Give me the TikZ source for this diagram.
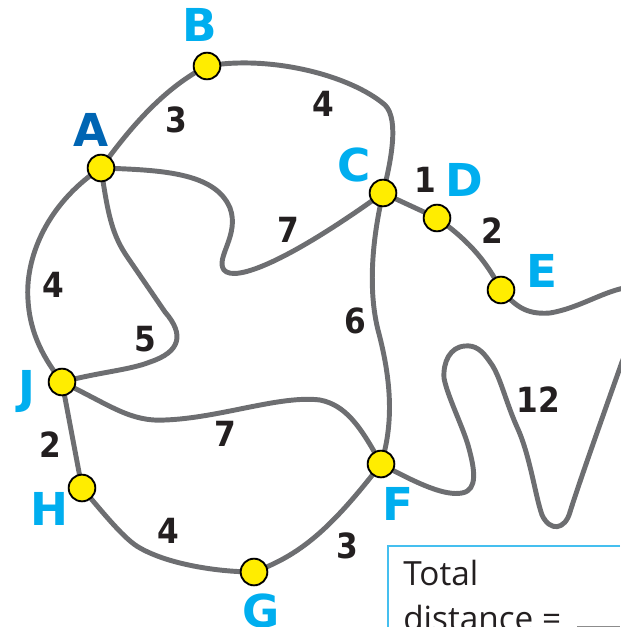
\documentclass[tikz,border=0pt]{standalone}
\usepackage{fontspec}
\setmainfont{Open Sans}
\newfontfamily\lblfont{DejaVu Sans}
\newfontfamily\numfont{DejaVu Sans Condensed}
\usetikzlibrary{backgrounds}
\definecolor{cRoad}{HTML}{6D6E71}
\definecolor{cDot}{HTML}{FFED00}
\definecolor{cCyan}{HTML}{00AEEF}
\definecolor{cBlue}{HTML}{0065B3}
\definecolor{cNum}{HTML}{231F20}
\definecolor{cBox}{HTML}{45BFEF}
\begin{document}
\begin{tikzpicture}[x=0.75pt,y=-0.75pt,
  dot/.style={circle, draw=black, fill=cDot, line width=1.4pt, minimum size=20pt, inner sep=0pt},
  roadline/.style={draw=cRoad, line width=3.7pt, line cap=round, line join=round},
  vlabel/.style={anchor=base, font=\fontsize{34}{34}\lblfont\bfseries, text=cCyan, inner sep=0pt},
  wlabel/.style={anchor=base, font=\fontsize{26}{26}\numfont\bfseries, text=cNum, inner sep=0pt},
  boxtext/.style={anchor=base west, font=\fontsize{25}{25}\selectfont, text=cNum, inner sep=0pt}]
\useasboundingbox (0,0) rectangle (620,627);
% vertices
\node[dot] (A) at (101,168) {};
\node[dot] (B) at (207,66) {};
\node[dot] (C) at (383,193) {};
\node[dot] (D) at (437,218) {};
\node[dot] (E) at (501,290) {};
\node[dot] (F) at (381,464) {};
\node[dot] (G) at (254,572) {};
\node[dot] (H) at (82,488) {};
\node[dot] (J) at (62,382) {};
% vertex labels
\node[vlabel, text=cBlue] (lA) at (91,147) {A};
\node[vlabel] (lB) at (200,42) {B};
\node[vlabel] (lC) at (354,182) {C};
\node[vlabel] (lD) at (464,197) {D};
\node[vlabel] (lE) at (542,287) {E};
\node[vlabel] (lF) at (398,520) {F};
\node[vlabel] (lG) at (261,627) {G};
\node[vlabel] (lH) at (49,525) {H};
\node[vlabel] (lJ) at (27,403) {J};
% weights
\node[wlabel] (wAB) at (176,133) {3};
\node[wlabel] (wBC) at (323,117) {4};
\node[wlabel] (wAC) at (288,242) {7};
\node[wlabel] (wAJ) at (53,297) {4};
\node[wlabel] (wAJb) at (145,351) {5};
\node[wlabel] (wCD) at (425,193) {1};
\node[wlabel] (wDE) at (492,243) {2};
\node[wlabel] (wCF) at (355,333) {6};
\node[wlabel] (wEF) at (538,412) {12};
\node[wlabel] (wJH) at (50,457) {2};
\node[wlabel] (wJF) at (225,446) {7};
\node[wlabel] (wHG) at (168,543) {4};
\node[wlabel] (wGF) at (347,558) {3};
% answer box
\coordinate (boxTR) at (620,546);
\coordinate (boxBL) at (388,627);
\draw[cBox, line width=1.1pt] (boxTR) -- (boxTR -| boxBL) -- (boxBL);
\node[boxtext] (tTotal) at (403,585) {Total};
\node[boxtext] (tDist) at (403,630) {distance =};
\coordinate (blankL) at (577,626);
\coordinate (blankR) at (620,626);
\draw[black!45, line width=0.6pt] (blankL) -- (blankR);
% roads
\begin{scope}[on background layer]
\path[roadline] (A.center) .. controls (125,135) and (160,90) .. (B.center);
\path[roadline] (B.center) .. controls (270,55) and (350,75) .. (385,105)
   .. controls (400,120) and (390,165) .. (C.center);
\path[roadline] (A.center) .. controls (160,170) and (215,172) .. (230,208)
   .. controls (240,235) and (215,258) .. (224,270)
   .. controls (235,283) and (290,260) .. (C.center);
\path[roadline] (A.center) .. controls (45,205) and (25,260) .. (28,300)
   .. controls (30,335) and (45,360) .. (J.center);
\path[roadline] (A.center) .. controls (108,215) and (112,235) .. (128,258)
   -- (165,312) .. controls (185,335) and (180,352) .. (150,362)
   .. controls (130,370) and (100,372) .. (J.center);
\path[roadline] (J.center) -- (H.center);
\path[roadline] (J.center) .. controls (110,405) and (130,422) .. (165,420)
   .. controls (220,418) and (280,395) .. (320,400)
   .. controls (345,405) and (360,425) .. (F.center);
\path[roadline] (H.center) .. controls (105,515) and (125,540) .. (140,548)
   .. controls (170,565) and (220,572) .. (G.center);
\path[roadline] (G.center) .. controls (300,555) and (330,530) .. (F.center);
\path[roadline] (C.center) .. controls (372,240) and (368,290) .. (378,330)
   .. controls (390,375) and (395,420) .. (F.center);
\path[roadline] (C.center) -- (D.center);
\path[roadline] (D.center) .. controls (465,238) and (485,258) .. (E.center);
\path[roadline] (E.center) .. controls (515,305) and (525,315) .. (550,313)
   .. controls (580,308) and (605,290) .. (630,287)
   .. controls (660,284) and (640,320) .. (622,362)
   .. controls (605,410) and (580,480) .. (570,512)
   .. controls (565,530) and (550,532) .. (542,515)
   .. controls (535,495) and (530,455) .. (517,427)
   .. controls (505,400) and (500,375) .. (490,362)
   .. controls (482,350) and (475,345) .. (465,346)
   .. controls (450,347) and (443,362) .. (444,378)
   .. controls (447,395) and (462,425) .. (468,445)
   .. controls (475,470) and (478,490) .. (462,493)
   .. controls (445,496) and (420,485) .. (F.center);
\end{scope}
\end{tikzpicture}
\end{document}
